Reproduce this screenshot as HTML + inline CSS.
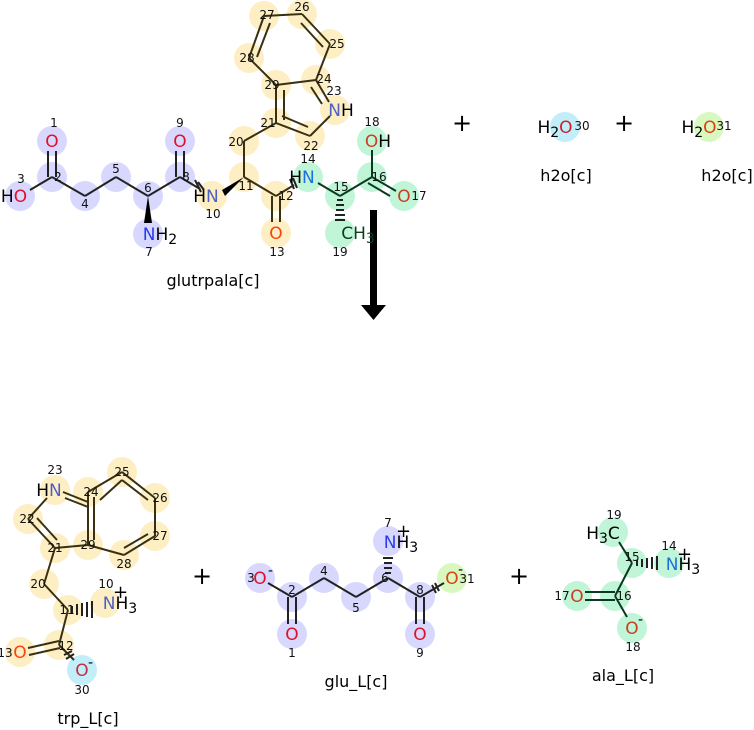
<!DOCTYPE html>
<html><head><style>
html,body{margin:0;padding:0;background:#fff;}
svg{display:block;font-family:"DejaVu Sans","Liberation Sans",sans-serif;}
.n{font-size:12px;fill:#111;text-anchor:middle;}
.a{font-size:17px;text-anchor:middle;}
.l{font-size:16px;fill:#000;text-anchor:middle;}
line{stroke:#222;stroke-width:2;}
.y line{stroke:#3a3010;}
.g line{stroke:#0a3a20;}
circle{r:15px;}
</style></head><body>
<svg width="754" height="730" viewBox="0 0 754 730">
<g fill="#d8d8ff">
<circle cx="52" cy="141" r="15"/><circle cx="52" cy="177" r="15"/><circle cx="20" cy="196" r="15"/><circle cx="85" cy="196" r="15"/><circle cx="116" cy="177" r="15"/><circle cx="148" cy="196" r="15"/><circle cx="148" cy="234" r="15"/><circle cx="180" cy="177" r="15"/><circle cx="180" cy="141" r="15"/>
<circle cx="260" cy="578" r="15"/><circle cx="292" cy="597" r="15"/><circle cx="292" cy="634" r="15"/><circle cx="324" cy="578" r="15"/><circle cx="356" cy="597" r="15"/><circle cx="388" cy="578" r="15"/><circle cx="388" cy="541" r="15"/><circle cx="420" cy="597" r="15"/><circle cx="420" cy="634" r="15"/>
</g>
<g fill="#fdefc3">
<circle cx="212" cy="196" r="15"/><circle cx="244" cy="177" r="15"/><circle cx="276" cy="196" r="15"/><circle cx="276" cy="233" r="15"/><circle cx="244" cy="141" r="15"/><circle cx="276" cy="123" r="15"/><circle cx="310" cy="136" r="15"/><circle cx="335" cy="110" r="15"/><circle cx="316" cy="80" r="15"/><circle cx="330" cy="44" r="15"/><circle cx="302" cy="14" r="15"/><circle cx="264" cy="16" r="15"/><circle cx="249" cy="58" r="15"/><circle cx="276" cy="85" r="15"/>
<circle cx="55" cy="490" r="15"/><circle cx="28" cy="519" r="15"/><circle cx="55" cy="548" r="15"/><circle cx="44" cy="584" r="15"/><circle cx="68" cy="610" r="15"/><circle cx="105" cy="603" r="15"/><circle cx="59" cy="645" r="15"/><circle cx="20" cy="652" r="15"/><circle cx="88" cy="492" r="15"/><circle cx="122" cy="472" r="15"/><circle cx="155" cy="498" r="15"/><circle cx="155" cy="536" r="15"/><circle cx="124" cy="555" r="15"/><circle cx="88" cy="545" r="15"/>
</g>
<g fill="#c0f5d8">
<circle cx="308" cy="177" r="15"/><circle cx="340" cy="196" r="15"/><circle cx="372" cy="177" r="15"/><circle cx="404" cy="196" r="15"/><circle cx="372" cy="141" r="15"/><circle cx="340" cy="233" r="15"/>
<circle cx="613" cy="532" r="15"/><circle cx="632" cy="563" r="15"/><circle cx="669" cy="563" r="15"/><circle cx="615" cy="596" r="15"/><circle cx="577" cy="596" r="15"/><circle cx="632" cy="628" r="15"/>
</g>
<circle cx="82" cy="670" r="15" fill="#c2eefa"/>
<circle cx="565" cy="127" r="15" fill="#c2eefa"/>
<circle cx="452" cy="578" r="15" fill="#d8f8c0"/>
<circle cx="709" cy="127" r="15" fill="#d8f8c0"/>

<g>
<line x1="30" y1="190" x2="52" y2="177"/><line x1="48" y1="177" x2="48" y2="151"/><line x1="56" y1="177" x2="56" y2="151"/>
<line x1="52" y1="177" x2="85" y2="196"/><line x1="85" y1="196" x2="116" y2="177"/><line x1="116" y1="177" x2="148" y2="196"/><line x1="148" y1="196" x2="180" y2="177"/>
<line x1="176" y1="177" x2="176" y2="151"/><line x1="184" y1="177" x2="184" y2="151"/><line x1="180" y1="177" x2="200" y2="189"/>
</g>
<polygon points="148,196 144,223 152,223" fill="#000"/>
<g class="y">
<line x1="244" y1="177" x2="276" y2="196"/><line x1="244" y1="177" x2="244" y2="141"/><line x1="244" y1="141" x2="276" y2="123"/>
<line x1="272" y1="196" x2="272" y2="222"/><line x1="280" y1="196" x2="280" y2="222"/><line x1="276" y1="196" x2="294" y2="185"/>
<line x1="276" y1="123" x2="310" y2="136"/><line x1="282" y1="116" x2="308" y2="127"/><line x1="310" y1="136" x2="330" y2="116"/><line x1="329" y1="102" x2="316" y2="80"/><line x1="322" y1="104" x2="311" y2="87"/>
<line x1="276" y1="123" x2="276" y2="85"/><line x1="284" y1="120" x2="284" y2="90"/><line x1="276" y1="85" x2="316" y2="80"/>
<line x1="316" y1="80" x2="330" y2="44"/><line x1="330" y1="44" x2="302" y2="14"/><line x1="323" y1="47" x2="301" y2="23"/><line x1="302" y1="14" x2="264" y2="16"/><line x1="264" y1="16" x2="249" y2="58"/><line x1="270" y1="23" x2="257" y2="57"/><line x1="249" y1="58" x2="276" y2="85"/>
</g>
<polygon points="244,177 222,190 225,196" fill="#000"/>
<g class="g">
<line x1="318" y1="183" x2="340" y2="196"/><line x1="340" y1="196" x2="372" y2="177"/><line x1="372" y1="177" x2="372" y2="150"/><line x1="372" y1="177" x2="396" y2="191"/><line x1="368" y1="183" x2="390" y2="196"/>
</g>
<g stroke="#222" stroke-width="1.3">
<line x1="337" y1="200" x2="343" y2="200"/><line x1="336" y1="205" x2="344" y2="205"/><line x1="336" y1="210" x2="344" y2="210"/><line x1="335" y1="215" x2="345" y2="215"/><line x1="335" y1="220" x2="345" y2="220"/>
</g>
<g stroke="#222" stroke-width="1.2"><line x1="195" y1="180" x2="201" y2="192"/><line x1="198" y1="182" x2="204" y2="190"/><line x1="290" y1="179" x2="294" y2="189"/><line x1="293" y1="178" x2="297" y2="188"/></g>

<g class="y">
<line x1="63" y1="492" x2="88" y2="502"/><line x1="88" y1="492" x2="88" y2="545"/><line x1="94" y1="497" x2="94" y2="540"/><line x1="88" y1="545" x2="55" y2="548"/><line x1="55" y1="548" x2="28" y2="519"/><line x1="57" y1="540" x2="37" y2="518"/><line x1="28" y1="519" x2="47" y2="498"/><line x1="65" y1="498" x2="88" y2="507"/>
<line x1="88" y1="492" x2="122" y2="472"/><line x1="122" y1="472" x2="155" y2="498"/><line x1="122" y1="480" x2="148" y2="500"/><line x1="155" y1="498" x2="155" y2="536"/><line x1="155" y1="536" x2="124" y2="555"/><line x1="148" y1="534" x2="124" y2="548"/><line x1="124" y1="555" x2="88" y2="545"/><line x1="100" y1="500" x2="122" y2="480"/>
<line x1="55" y1="548" x2="44" y2="584"/><line x1="44" y1="584" x2="68" y2="610"/><line x1="68" y1="610" x2="59" y2="645"/><line x1="59" y1="641" x2="28" y2="648"/><line x1="60" y1="648" x2="29" y2="655"/><line x1="59" y1="645" x2="74" y2="660"/>
</g>
<g stroke="#222" stroke-width="1.3"><line x1="72" y1="606" x2="72" y2="614"/><line x1="77" y1="604" x2="77" y2="615"/><line x1="82" y1="603" x2="82" y2="616"/><line x1="87" y1="602" x2="87" y2="617"/><line x1="92" y1="601" x2="92" y2="618"/>
<line x1="64" y1="655" x2="72" y2="651"/><line x1="66" y1="659" x2="74" y2="654"/></g>

<g>
<line x1="268" y1="583" x2="292" y2="597"/><line x1="288" y1="597" x2="288" y2="624"/><line x1="296" y1="597" x2="296" y2="624"/><line x1="292" y1="597" x2="324" y2="578"/><line x1="324" y1="578" x2="356" y2="597"/><line x1="356" y1="597" x2="388" y2="578"/><line x1="388" y1="578" x2="420" y2="597"/>
<line x1="416" y1="597" x2="416" y2="624"/><line x1="424" y1="597" x2="424" y2="624"/><line x1="420" y1="597" x2="444" y2="583"/>
</g>
<g stroke="#222" stroke-width="1.3"><line x1="385" y1="573" x2="391" y2="573"/><line x1="384" y1="568" x2="392" y2="568"/><line x1="384" y1="563" x2="392" y2="563"/><line x1="383" y1="558" x2="393" y2="558"/>
<line x1="432" y1="585" x2="436" y2="593"/><line x1="435" y1="583" x2="439" y2="591"/></g>

<g class="g">
<line x1="619" y1="542" x2="632" y2="563"/><line x1="632" y1="563" x2="615" y2="596"/><line x1="615" y1="592" x2="585" y2="592"/><line x1="615" y1="600" x2="585" y2="600"/><line x1="615" y1="596" x2="627" y2="617"/>
</g>
<g stroke="#222" stroke-width="1.3"><line x1="637" y1="560" x2="637" y2="566"/><line x1="642" y1="559" x2="642" y2="567"/><line x1="647" y1="558" x2="647" y2="568"/><line x1="652" y1="557" x2="652" y2="569"/><line x1="657" y1="556" x2="657" y2="570"/></g>

<rect x="370" y="210" width="7" height="97" fill="#000"/>
<polygon points="361,305 386,305 373.5,320" fill="#000"/>

<g class="a">
<text x="52" y="147" fill="#e0102a">O</text>
<text x="14" y="202" fill="#000">H<tspan fill="#e0102a">O</tspan></text>
<text x="180" y="147" fill="#e0102a">O</text>
<text x="160" y="240" fill="#2a3af0">N<tspan fill="#000">H<tspan font-size="14" dy="4">2</tspan></tspan></text>
<text x="206" y="202" fill="#000">H<tspan fill="#5060c0">N</tspan></text>
<text x="276" y="239" fill="#ff4010">O</text>
<text x="302" y="183" fill="#000">H<tspan fill="#1a70e0">N</tspan></text>
<text x="378" y="147" fill="#c84020">O<tspan fill="#000">H</tspan></text>
<text x="404" y="202" fill="#c84020">O</text>
<text x="358" y="239" fill="#0a4020">CH<tspan font-size="14" dy="4">3</tspan></text>
<text x="341" y="116" fill="#5060c0">N<tspan fill="#000">H</tspan></text>
<text x="555" y="133" fill="#000">H<tspan font-size="14" dy="4">2</tspan><tspan dy="-4" fill="#d02030">O</tspan></text>
<text x="699" y="133" fill="#000">H<tspan font-size="14" dy="4">2</tspan><tspan dy="-4" fill="#e04010">O</tspan></text>
<text x="49" y="496" fill="#000">H<tspan fill="#5060c0">N</tspan></text>
<text x="120" y="609" fill="#5060c0">N<tspan fill="#000">H<tspan font-size="14" dy="4">3</tspan></tspan></text>
<text x="20" y="658" fill="#ff4010">O</text>
<text x="82" y="676" fill="#c03040">O</text>
<text x="260" y="584" fill="#e0102a">O</text>
<text x="292" y="640" fill="#e0102a">O</text>
<text x="420" y="640" fill="#e0102a">O</text>
<text x="401" y="548" fill="#2a3af0">N<tspan fill="#000">H<tspan font-size="14" dy="4">3</tspan></tspan></text>
<text x="452" y="584" fill="#e04010">O</text>
<text x="603" y="539" fill="#000">H<tspan font-size="14" dy="4">3</tspan><tspan dy="-4">C</tspan></text>
<text x="683" y="570" fill="#1a70e0">N<tspan fill="#000">H<tspan font-size="14" dy="4">3</tspan></tspan></text>
<text x="577" y="602" fill="#c84020">O</text>
<text x="632" y="634" fill="#c84020">O</text>
</g>
<g font-size="14" fill="#000">
<text x="268" y="575">-</text><text x="88" y="667">-</text><text x="458" y="574">-</text><text x="638" y="624">-</text>
<text x="113" y="598" font-size="18">+</text><text x="396" y="537" font-size="18">+</text><text x="677" y="560" font-size="18">+</text>
</g>
<g class="n">
<text x="54" y="127">1</text><text x="58" y="181">2</text><text x="21" y="183">3</text><text x="85" y="208">4</text><text x="116" y="173">5</text><text x="148" y="192">6</text><text x="149" y="256">7</text><text x="186" y="181">8</text><text x="180" y="127">9</text><text x="213" y="218">10</text><text x="246" y="190">11</text><text x="286" y="200">12</text><text x="277" y="256">13</text><text x="308" y="163">14</text><text x="341" y="191">15</text><text x="379" y="181">16</text><text x="419" y="200">17</text><text x="372" y="126">18</text><text x="340" y="256">19</text><text x="236" y="146">20</text><text x="268" y="127">21</text><text x="311" y="150">22</text><text x="334" y="95">23</text><text x="324" y="83">24</text><text x="337" y="48">25</text><text x="302" y="11">26</text><text x="267" y="19">27</text><text x="247" y="62">28</text><text x="272" y="89">29</text>
<text x="582" y="130">30</text><text x="724" y="130">31</text>
<text x="55" y="474">23</text><text x="27" y="523">22</text><text x="55" y="552">21</text><text x="38" y="588">20</text><text x="67" y="614">11</text><text x="106" y="588">10</text><text x="66" y="650">12</text><text x="5" y="657">13</text><text x="82" y="694">30</text><text x="91" y="496">24</text><text x="122" y="476">25</text><text x="160" y="502">26</text><text x="160" y="540">27</text><text x="124" y="568">28</text><text x="88" y="549">29</text>
<text x="251" y="582">3</text><text x="292" y="594">2</text><text x="292" y="657">1</text><text x="324" y="575">4</text><text x="356" y="612">5</text><text x="385" y="582">6</text><text x="388" y="527">7</text><text x="420" y="594">8</text><text x="420" y="657">9</text><text x="467" y="583">31</text>
<text x="614" y="519">19</text><text x="632" y="561">15</text><text x="669" y="550">14</text><text x="624" y="600">16</text><text x="562" y="600">17</text><text x="633" y="651">18</text>
</g>
<g font-size="24" fill="#000" text-anchor="middle">
<text x="462" y="131">+</text><text x="624" y="131">+</text><text x="202" y="584">+</text><text x="519" y="584">+</text>
</g>
<g class="l">
<text x="213" y="286">glutrpala[c]</text>
<text x="566" y="181">h2o[c]</text><text x="727" y="181">h2o[c]</text>
<text x="88" y="724">trp_L[c]</text><text x="356" y="687">glu_L[c]</text><text x="623" y="681">ala_L[c]</text>
</g>
</svg>
</body></html>
